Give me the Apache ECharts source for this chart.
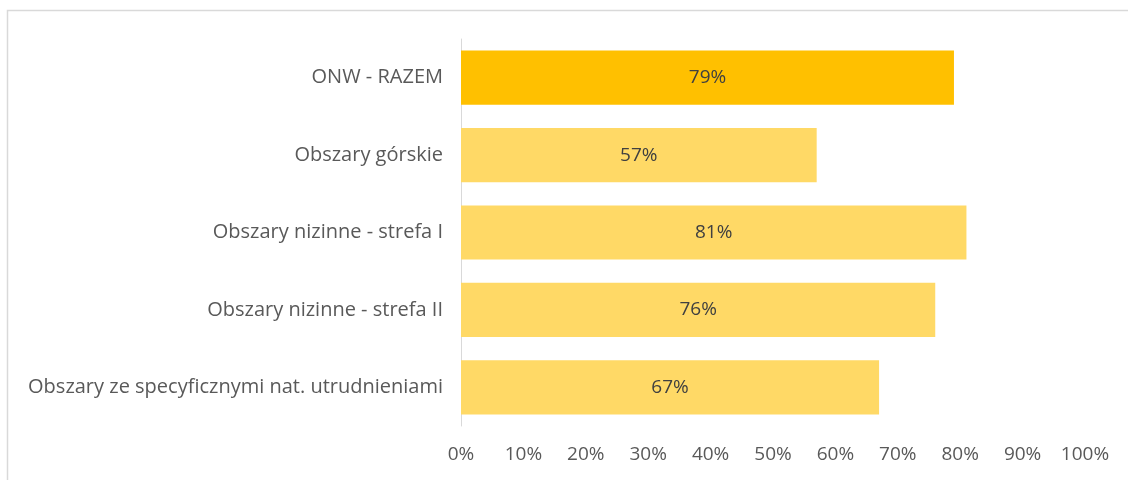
<!DOCTYPE html>
<html>
<head>
<meta charset="utf-8">
<script src="https://cdn.jsdelivr.net/npm/echarts@6/dist/echarts.min.js"></script>
<style>
html,body{margin:0;padding:0;background:#fff;}
#chart{width:1128px;height:480px;}
</style>
</head>
<body>
<div id="chart"></div>
<script>
var categories = ['ONW - RAZEM', 'Obszary górskie', 'Obszary nizinne - strefa I', 'Obszary nizinne - strefa II', 'Obszary ze specyficznymi nat. utrudnieniami'];
var values = [79, 57, 81, 76, 67];
var barColors = ['#FFC000', '#FFD966', '#FFD966', '#FFD966', '#FFD966'];

var chart = echarts.init(document.getElementById('chart'));
var fontFam = '"Open Sans", "Liberation Sans", sans-serif';
chart.setOption({
  animation: false,
  graphic: [{
    type: 'rect',
    shape: {x: 7.5, y: 10.5, width: 1300, height: 600},
    style: {fill: 'none', stroke: '#d9d9d9', lineWidth: 1.5},
    silent: true
  }],
  grid: {left: 461, right: 43, top: 39, bottom: 54, containLabel: false},
  xAxis: {
    type: 'value', min: 0, max: 100, interval: 10,
    axisLabel: {formatter: '{value}%', color: '#595959', fontSize: 19, fontFamily: fontFam, margin: 19},
    splitLine: {show: false},
    axisLine: {show: false},
    axisTick: {show: false}
  },
  yAxis: {
    type: 'category', inverse: true, data: categories,
    axisLine: {show: true, lineStyle: {color: '#d9d9d9', width: 1}},
    axisTick: {show: false},
    axisLabel: {color: '#595959', fontSize: 20, fontFamily: fontFam, margin: 18}
  },
  series: [{
    type: 'bar',
    data: values.map(function (v, i) { return {value: v, itemStyle: {color: barColors[i]}}; }),
    barCategoryGap: '30%',
    label: {show: true, position: 'inside', formatter: '{c}%', color: '#404040', fontSize: 19, fontFamily: fontFam}
  }]
});
</script>
</body>
</html>
